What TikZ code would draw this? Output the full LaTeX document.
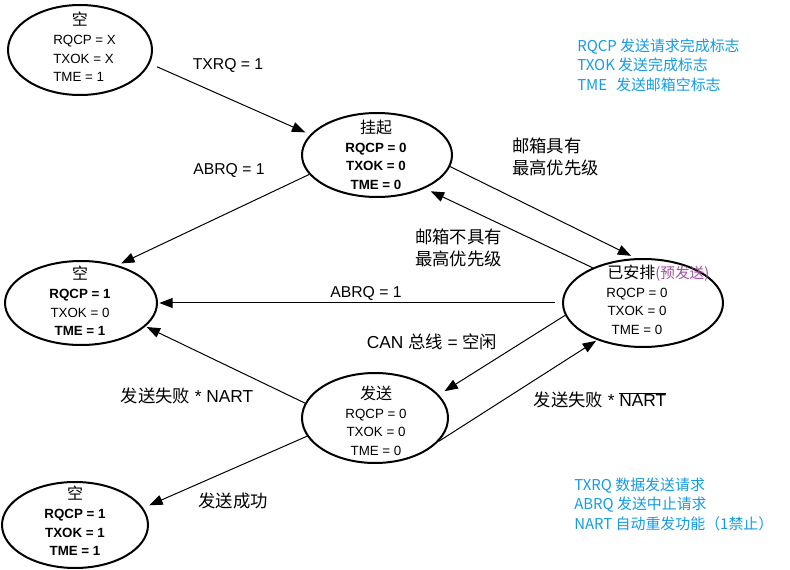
\documentclass[tikz,border=0pt]{standalone}
\usepackage{fontspec}
\setmainfont{Liberation Sans}
\newfontfamily\cjk{Noto Sans CJK SC}
\usetikzlibrary{arrows.meta,shapes.geometric}
\definecolor{legendblue}{RGB}{20,155,225}
\definecolor{prepurple}{RGB}{160,80,160}
\newcommand\ttl[1]{{\cjk\fontsize{12}{13.9}\selectfont #1}}
\begin{document}
\begin{tikzpicture}[x=0.75pt,y=-0.75pt,
  st/.style={ellipse, draw, line width=1.5pt, inner sep=0pt},
  txt/.style={align=center, inner sep=0pt, font=\fontsize{10}{13.9}\selectfont},
  conn/.style={line width=0.75pt, -{Triangle[length=10pt,width=7.5pt]}},
  lbl/.style={font=\fontsize{11.8}{17}\selectfont, inner sep=0pt},
  mixlbl/.style={font=\fontsize{13}{17}\selectfont, inner sep=0pt},
  cjklbl/.style={font=\cjk\fontsize{13}{16}\selectfont, inner sep=0pt, align=left, anchor=west},
  legend/.style={font=\cjk\fontsize{11.2}{14.6}\selectfont, text=legendblue, align=left, anchor=west, inner sep=0pt}]
\useasboundingbox (0,0) rectangle (790,570);

% states
\node[st, minimum width=108pt, minimum height=67.5pt] (e1) at (80,50) {};
\node[st, minimum width=112.5pt, minimum height=63pt] (e2) at (377,155) {};
\node[st, minimum width=114pt, minimum height=63pt] (e3) at (81,303) {};
\node[st, minimum width=120pt, minimum height=66pt] (e4) at (643,303) {};
\node[st, minimum width=109.5pt, minimum height=67.5pt] (e5) at (375,418) {};
\node[st, minimum width=109.5pt, minimum height=64.5pt] (e6) at (75,525) {};

\node[txt, align=left, anchor=west] (t1) at (53,47) {\hspace*{14pt}\ttl{空}\\RQCP = X\\TXOK = X\\TME = 1};
\node[txt] (t2) at (376,155) {\ttl{挂起}\\\textbf{RQCP = 0}\\\textbf{TXOK = 0}\\\textbf{TME = 0}};
\node[txt] (t3) at (80,301) {\ttl{空}\\\textbf{RQCP = 1}\\TXOK = 0\\\textbf{TME = 1}};
\node[txt] (t4) at (637,300) {\hspace*{32pt}\ttl{已安排}{\cjk\fontsize{11}{13.9}\selectfont\color{prepurple}(预发送)}\\RQCP = 0\\TXOK = 0\\TME = 0};
\node[txt] (t5) at (376,421) {\ttl{发送}\\RQCP = 0\\TXOK = 0\\TME = 0};
\node[txt] (t6) at (75,521) {\ttl{空}\\\textbf{RQCP = 1}\\\textbf{TXOK = 1}\\\textbf{TME = 1}};

% connectors
\draw[conn, shorten <=6pt, shorten >=4pt] (e1.-11) -- (e2.163);
\draw[conn, shorten >=3pt] (e2.196) -- (e3.46);
\draw[conn, shorten >=4pt] (e2.-9) -- (e4.99);
\draw[conn, shorten >=5pt] (e4.145) -- (e2.-35.6);
\draw[conn, shorten <=5pt, shorten >=1pt] (e4.180) -- (e3.0);
\draw[conn, shorten >=5pt] (e4.189) -- (e5.20.4);
\draw[conn, shorten >=1pt] (e5.168) -- (e3.-20);
\draw[conn, shorten >=5pt] (e5.195.5) -- (e6.14);
\draw[conn, shorten >=1pt] (e5.-20) -- (e4.219);

% labels
\node[lbl] (l1) at (228,65) {TXRQ = 1};
\node[lbl] (l2) at (229,170) {ABRQ = 1};
\node[cjklbl] (l3) at (512,157) {邮箱具有\\最高优先级};
\node[cjklbl] (l4) at (415,248) {邮箱不具有\\最高优先级};
\node[lbl] (l5) at (366,293) {ABRQ = 1};
\node[mixlbl] (l6) at (432,342) {CAN {\cjk 总线} = {\cjk 空闲}};
\node[mixlbl] (l7) at (187,396) {{\cjk 发送失败} * NART};
\node[cjklbl, anchor=center] (l8) at (233,501) {发送成功};
\node[mixlbl] (l9) at (600,400) {{\cjk 发送失败} * $\overline{\mbox{NART}}$};

% legends
\node[legend] (lg1) at (577,65) {RQCP 发送请求完成标志\\TXOK 发送完成标志\\TME\hspace{0.6em}发送邮箱空标志};
\node[legend] (lg2) at (574,504) {TXRQ 数据发送请求\\ABRQ 发送中止请求\\NART 自动重发功能（1禁止）};
\end{tikzpicture}
\end{document}
